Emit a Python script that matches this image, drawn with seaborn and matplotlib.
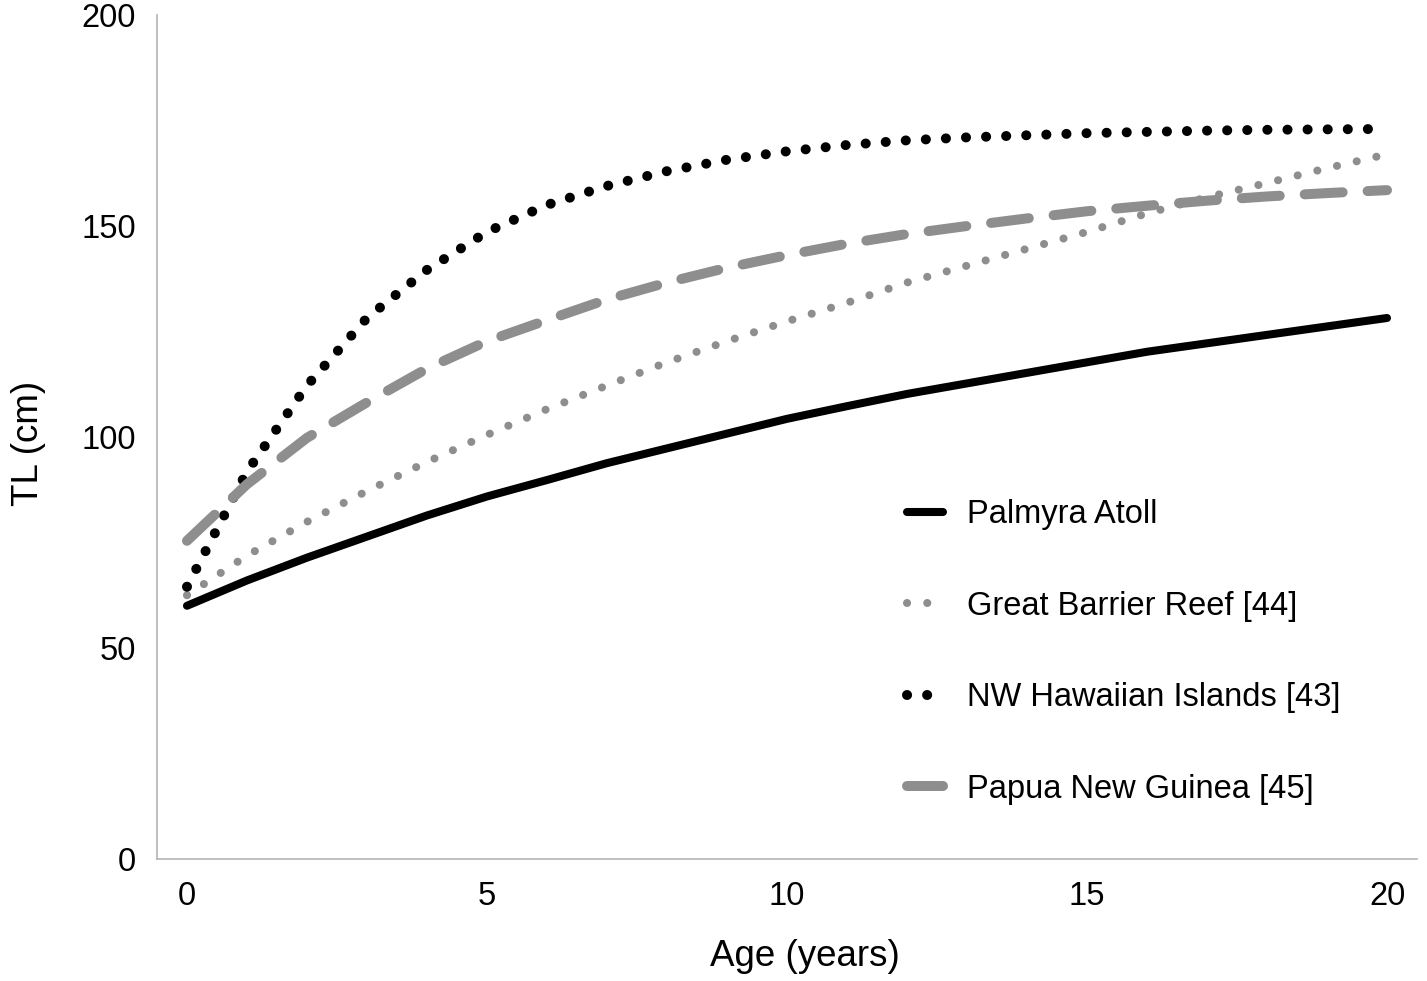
import numpy as np
import pandas as pd
import seaborn as sns
import matplotlib.pyplot as plt

# growth curves, total length (cm) by age (years)
age = list(range(21))
palmyra = [60.0, 66.0, 71.4, 76.4, 81.4, 85.9, 89.8, 93.8, 97.3, 100.8, 104.3,
           107.3, 110.2, 112.7, 115.2, 117.7, 120.2, 122.2, 124.2, 126.2, 128.2]
gbr = [62.5, 71.9, 79.9, 87.2, 94.1, 100.5, 106.6, 112.2, 117.7, 122.7, 127.4,
       131.8, 136.6, 140.6, 144.6, 148.6, 153.0, 156.8, 160.2, 163.7, 167.0]
hawaii = [64.5, 91.8, 112.2, 128.2, 139.6, 148.6, 155.0, 159.5, 163.0, 165.7, 167.7,
          169.2, 170.3, 171.0, 171.5, 172.0, 172.3, 172.6, 172.8, 172.9, 173.0]
png_ = [75.4, 88.8, 99.8, 108.2, 116.2, 122.7, 127.7, 132.6, 136.6, 140.1, 143.1,
        145.8, 148.1, 150.0, 151.8, 153.5, 154.8, 156.0, 157.0, 157.8, 158.5]

names = ['Palmyra Atoll', 'Great Barrier Reef [44]', 'NW Hawaiian Islands [43]', 'Papua New Guinea [45]']

sns.set_style('white')
plt.rcParams['font.family'] = ['Liberation Sans', 'DejaVu Sans']
plt.rcParams['text.color'] = 'black'

GREY = '#8e8e8e'
fig = plt.figure(figsize=(14.27, 9.81), dpi=100)
ax = fig.add_axes([0.110, 0.1244, 0.883, 0.8603])

styles = [
    (palmyra, 'black', 5.8, '-'),
    (gbr, GREY, 5.8, (0, (0.01, 2.5))),
    (hawaii, 'black', 7.2, (0, (0.01, 2.0))),
    (png_, GREY, 7.2, (0, (3.8, 2.5))),
]
for name, (vals, col, lw, ls) in zip(names, styles):
    df = pd.DataFrame({'age': age, 'TL': vals})
    sns.lineplot(data=df, x='age', y='TL', ax=ax, color=col, linewidth=lw,
                 linestyle=ls, label=name, dash_capstyle='round',
                 solid_capstyle='round')

ax.set_xlim(-0.5, 20.5)
ax.set_ylim(0, 200)
ax.set_xticks([0, 5, 10, 15, 20])
ax.set_yticks([0, 50, 100, 150, 200])
ax.tick_params(axis='both', length=0, labelsize=23.5, colors='black')
ax.tick_params(axis='y', pad=15)
ax.tick_params(axis='x', pad=16)
ax.set_xlabel('')
ax.set_ylabel('')
for s in ['top', 'right']:
    ax.spines[s].set_visible(False)
for s in ['left', 'bottom']:
    ax.spines[s].set_color('#b4b4b4')
    ax.spines[s].set_linewidth(1.2)

fig.text(805 / 1427, 1 - 957 / 981, 'Age (years)', ha='center', va='center', fontsize=26.5, color='black')
fig.text(28 / 1427, 1 - 443 / 981, 'TL (cm)', ha='center', va='center', rotation=90, fontsize=26.5, color='black')

ax.legend(loc='center left', bbox_to_anchor=(907 / 1427, 1 - 652 / 981),
          bbox_transform=fig.transFigure, frameon=False, fontsize=23.5,
          borderpad=0, borderaxespad=0, labelspacing=1.85, handlelength=1.1,
          handletextpad=0.75)

plt.savefig('out.png', dpi=100)
